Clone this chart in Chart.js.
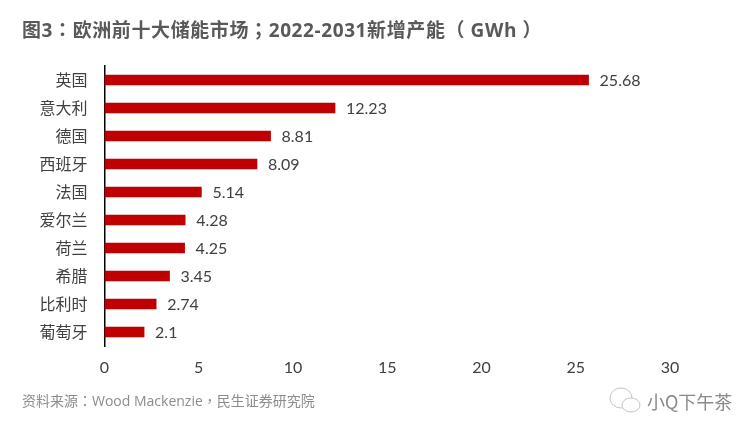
<!DOCTYPE html>
<html>
<head>
<meta charset="utf-8">
<style>
html, body { margin: 0; padding: 0; background: #fff; }
#wrap { width: 756px; height: 434px; }
</style>
<script src="https://cdn.jsdelivr.net/npm/chart.js@4"></script>
</head>
<body>
<div id="wrap"><canvas id="chart" width="756" height="434"></canvas></div>
<script>
const markets = ['英国', '意大利', '德国', '西班牙', '法国', '爱尔兰', '荷兰', '希腊', '比利时', '葡萄牙'];
const capacity = [25.68, 12.23, 8.81, 8.09, 5.14, 4.28, 4.25, 3.45, 2.74, 2.1];
const xTicks = [0, 5, 10, 15, 20, 25, 30];

const titleText = '图3：欧洲前十大储能市场；2022-2031新增产能（ GWh ）';
const sourceText = '资料来源：Wood Mackenzie，民生证券研究院';
const markText = '小Q下午茶';

const numFont = 'Lato, "Open Sans", sans-serif';
const cjkFont = '"Noto Sans CJK SC", sans-serif';
const cjkCentered = '"Noto Sans CJK TC", sans-serif';

const valueLabels = {
    id: 'valueLabels',
    afterDatasetsDraw(chart) {
        const {ctx} = chart;
        ctx.save();
        ctx.font = '16px ' + numFont;
        ctx.fillStyle = '#404040';
        ctx.textAlign = 'left';
        ctx.textBaseline = 'middle';
        chart.getDatasetMeta(0).data.forEach((bar, i) => {
            ctx.fillText(String(capacity[i]), bar.x + 11, bar.y + 1);
        });
        ctx.restore();
    }
};

const pageText = {
    id: 'pageText',
    afterDraw(chart) {
        const {ctx} = chart;
        ctx.save();
        ctx.textAlign = 'left';
        ctx.textBaseline = 'middle';
        ctx.font = 'bold 19px "Open Sans", ' + cjkCentered;
        ctx.letterSpacing = '0.6px';
        ctx.fillStyle = '#595959';
        ctx.fillText(titleText, 22, 32);
        ctx.letterSpacing = '0px';
        ctx.font = '14px "Open Sans", ' + cjkCentered;
        ctx.fillStyle = '#8c8c8c';
        ctx.fillText(sourceText, 22, 402);
        ctx.font = '18px ' + cjkFont;
        ctx.fillStyle = '#8a8a8a';
        ctx.fillText(markText, 647, 402);
        // wechat style bubbles
        ctx.strokeStyle = '#c4c4c4';
        ctx.lineWidth = 1;
        ctx.beginPath();
        ctx.ellipse(621, 398, 11, 10, 0, 0, Math.PI * 2);
        ctx.stroke();
        ctx.fillStyle = '#fff';
        ctx.beginPath();
        ctx.ellipse(631, 405, 9, 7, 0, 0, Math.PI * 2);
        ctx.fill();
        ctx.stroke();
        ctx.restore();
    }
};

new Chart(document.getElementById('chart'), {
    type: 'bar',
    data: {
        labels: markets,
        datasets: [{
            data: capacity,
            backgroundColor: '#c00000',
            barThickness: 10,
        }]
    },
    plugins: [valueLabels, pageText],
    options: {
        indexAxis: 'y',
        responsive: false,
        animation: false,
        layout: {padding: {top: 66, right: 86, left: 0, bottom: 0}},
        plugins: {legend: {display: false}, tooltip: {enabled: false}},
        scales: {
            x: {
                min: 0,
                max: 30,
                afterBuildTicks(axis) { axis.ticks = xTicks.map(v => ({value: v})); },
                afterFit(axis) { axis.height = 88; },
                grid: {display: false, drawTicks: false},
                border: {display: false},
                ticks: {padding: 12, color: '#404040', font: {family: numFont, size: 16}, maxRotation: 0},
            },
            y: {
                afterFit(axis) { axis.width = 104.5; },
                grid: {display: false, drawTicks: false},
                border: {display: true, color: '#000', width: 1.5},
                ticks: {padding: 17, color: '#404040', font: {family: cjkFont, size: 16}},
            }
        }
    }
});
</script>
</body>
</html>
